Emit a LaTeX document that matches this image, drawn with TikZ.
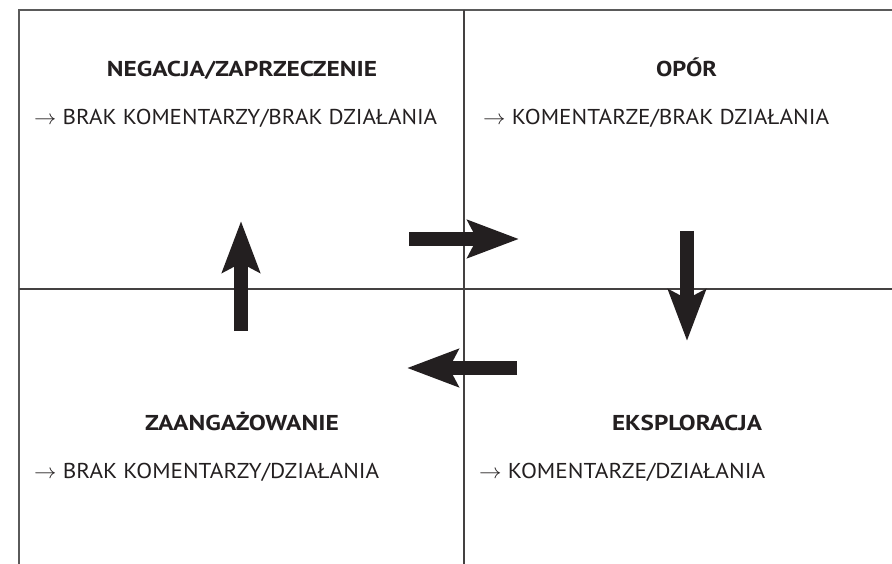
\documentclass[tikz,border=0pt]{standalone}
\usepackage{fontspec}
\usepackage{graphicx}
\setmainfont{PT Sans}
\usetikzlibrary{arrows.meta}
\definecolor{ink}{HTML}{231F20}
\definecolor{rule}{HTML}{5A5A5A}
\newcommand{\fitw}[2]{\resizebox{#1pt}{\height}{#2}}
\tikzset{
  frameline/.style={draw=rule, line width=1.6pt},
  midline/.style={draw=ink!85, line width=1.1pt},
  title/.style={anchor=base, inner sep=0pt, font=\fontsize{21.5}{24}\selectfont\bfseries, text=ink},
  desc/.style={anchor=base west, inner sep=0pt, font=\fontsize{21.5}{24}\selectfont, text=ink},
  bigarrow/.style={draw=ink, line width=14pt, -{Stealth[length=51pt, width=37pt, inset=9pt, fill=ink]}}
}
\begin{document}
\begin{tikzpicture}[x=1pt, y=-1pt]
\useasboundingbox (0,0) rectangle (892,564);
% frame and dividers
\coordinate (tl) at (19,10);
\coordinate (tr) at (892,10);
\coordinate (bl) at (19,564);
\coordinate (mt) at (464,10);
\coordinate (mb) at (464,564);
\coordinate (ml) at (19,289);
\coordinate (mr) at (892,289);
\draw[frameline] (bl) -- (tl) -- (tr);
\draw[midline] (mt) -- (mb);
\draw[midline] (ml) -- (mr);
% texts
\node[title] (t1) at (242,77) {\fitw{270}{NEGACJA/ZAPRZECZENIE}};
\node[desc] (d1) at (34,125) {\fitw{403}{$\rightarrow$ BRAK KOMENTARZY/BRAK DZIAŁANIA}};
\node[title] (t2) at (686.5,77) {\fitw{61}{OPÓR}};
\node[desc] (d2) at (483,125) {\fitw{346}{$\rightarrow$ KOMENTARZE/BRAK DZIAŁANIA}};
\node[title] (t3) at (242,430) {\fitw{194}{ZAANGAŻOWANIE}};
\node[desc] (d3) at (34,478) {\fitw{345}{$\rightarrow$ BRAK KOMENTARZY/DZIAŁANIA}};
\node[title] (t4) at (687,430) {\fitw{150}{EKSPLORACJA}};
\node[desc] (d4) at (479,478) {\fitw{286}{$\rightarrow$ KOMENTARZE/DZIAŁANIA}};
% arrows
\coordinate (a1s) at (409,239);
\coordinate (a1e) at (519,239);
\coordinate (a2s) at (687,231);
\coordinate (a2e) at (687,341);
\coordinate (a3s) at (517,368);
\coordinate (a3e) at (407,368);
\coordinate (a4s) at (241,331);
\coordinate (a4e) at (241,221);
\draw[bigarrow] (a1s) -- (a1e);
\draw[bigarrow] (a2s) -- (a2e);
\draw[bigarrow] (a3s) -- (a3e);
\draw[bigarrow] (a4s) -- (a4e);
\end{tikzpicture}
\end{document}
